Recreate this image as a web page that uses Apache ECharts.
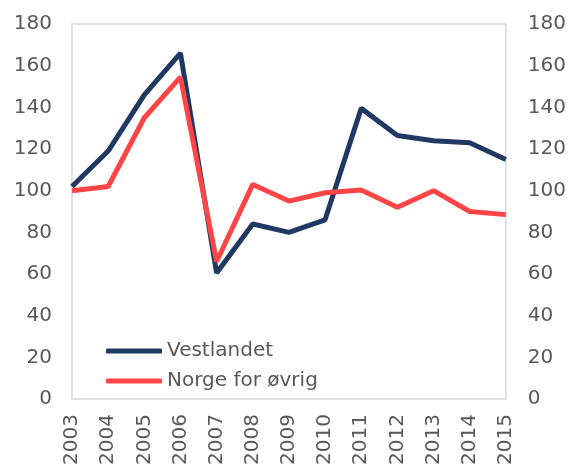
<!DOCTYPE html>
<html>
<head>
<meta charset="utf-8">
<script src="https://cdn.jsdelivr.net/npm/echarts@6/dist/echarts.min.js"></script>
<style>
html,body{margin:0;padding:0;background:#fff;}
#chart{width:569px;height:470px;}
</style>
</head>
<body>
<div id="chart"></div>
<script>
const years = ['2003','2004','2005','2006','2007','2008','2009','2010','2011','2012','2013','2014','2015'];
const vestlandet = [102, 119, 146, 166, 60.5, 84, 80, 86, 139.5, 126.5, 124, 123, 115];
const norgeForOvrig = [100, 102, 135, 154.5, 66, 103, 95, 99, 100.3, 92, 100, 90, 88.5];
const yTicks = {min: 0, max: 180, interval: 20};
const seriesNames = ['Vestlandet', 'Norge for øvrig'];

const font = 'DejaVu Sans';
const txt = '#595959';

const yAxisBase = {
  type: 'value',
  min: yTicks.min, max: yTicks.max, interval: yTicks.interval,
  axisLine: {show: false}, axisTick: {show: false}, splitLine: {show: false},
  axisLabel: {color: txt, fontSize: 20, fontFamily: font}
};

const chart = echarts.init(document.getElementById('chart'), null, {renderer: 'canvas'});
chart.setOption({
  animation: false,
  backgroundColor: '#ffffff',
  grid: {left: 72, right: 63, top: 24, bottom: 71, show: true, borderColor: '#d9d9d9', borderWidth: 1.5, containLabel: false},
  legend: {
    orient: 'vertical', left: 101, top: 336,
    data: seriesNames,
    icon: 'roundRect', itemWidth: 56, itemHeight: 5, itemGap: 10,
    textStyle: {color: txt, fontSize: 20, fontFamily: font, lineHeight: 20}
  },
  xAxis: {
    type: 'category', data: years, boundaryGap: false,
    axisLine: {show: false}, axisTick: {show: false}, splitLine: {show: false},
    axisLabel: {rotate: 90, margin: 15, color: txt, fontSize: 20, fontFamily: font, interval: 0}
  },
  yAxis: [
    Object.assign({}, yAxisBase, {position: 'left', axisLabel: Object.assign({}, yAxisBase.axisLabel, {margin: 20})}),
    Object.assign({}, yAxisBase, {position: 'right', axisLabel: Object.assign({}, yAxisBase.axisLabel, {margin: 22})})
  ],
  series: [
    {name: seriesNames[0], type: 'line', data: vestlandet, symbol: 'none', yAxisIndex: 0,
     itemStyle: {color: '#1f3864'}, lineStyle: {color: '#1f3864', width: 5}},
    {name: seriesNames[1], type: 'line', data: norgeForOvrig, symbol: 'none', yAxisIndex: 0,
     itemStyle: {color: '#ff4545'}, lineStyle: {color: '#ff4545', width: 5}}
  ]
});
</script>
</body>
</html>
